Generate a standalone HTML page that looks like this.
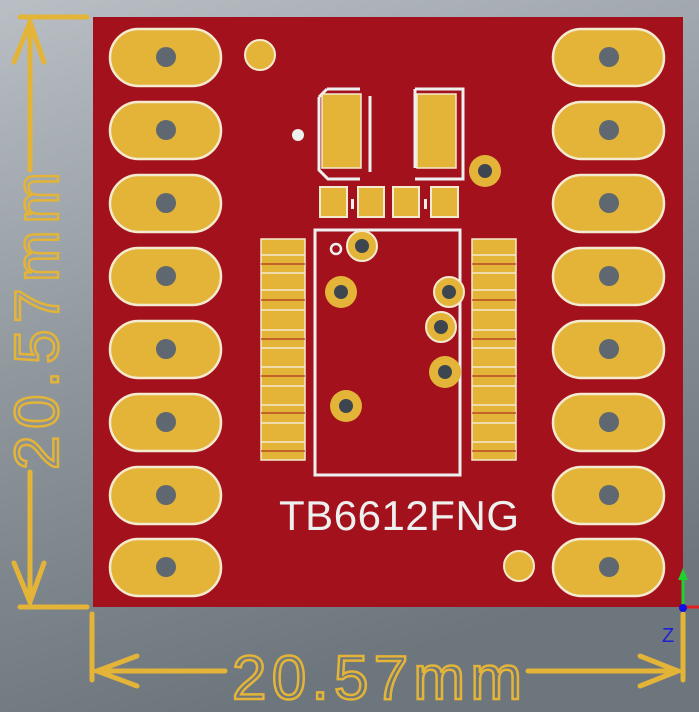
<!DOCTYPE html>
<html><head><style>html,body{margin:0;padding:0;}body{width:699px;height:712px;overflow:hidden;}</style></head>
<body>
<svg width="699" height="712" viewBox="0 0 699 712" xmlns="http://www.w3.org/2000/svg" font-family="Liberation Sans, sans-serif">
<defs>
<linearGradient id="bg" x1="0" y1="0" x2="0.3" y2="1">
<stop offset="0" stop-color="#b9bfc4"/><stop offset="0.5" stop-color="#8f979d"/><stop offset="1" stop-color="#6e767d"/>
</linearGradient>
</defs>
<rect width="699" height="712" fill="url(#bg)"/>
<rect x="93" y="17" width="590" height="590" fill="#a3121c"/>
<g id="lp" fill="#e3b437" stroke="#f4ead0" stroke-width="2.5">
<rect x="110" y="29" width="111" height="57" rx="28.5"/>
<rect x="110" y="102" width="111" height="57" rx="28.5"/>
<rect x="110" y="175" width="111" height="57" rx="28.5"/>
<rect x="110" y="248" width="111" height="57" rx="28.5"/>
<rect x="110" y="321" width="111" height="57" rx="28.5"/>
<rect x="110" y="394" width="111" height="57" rx="28.5"/>
<rect x="110" y="467" width="111" height="57" rx="28.5"/>
<rect x="110" y="539" width="111" height="57" rx="28.5"/>
</g>
<use href="#lp" x="443"/>
<g fill="#5f6870">
<circle cx="166" cy="57" r="10"/><circle cx="166" cy="130" r="10"/><circle cx="166" cy="203" r="10"/><circle cx="166" cy="276" r="10"/><circle cx="166" cy="349" r="10"/><circle cx="166" cy="422" r="10"/><circle cx="166" cy="495" r="10"/><circle cx="166" cy="567" r="10"/>
<circle cx="609" cy="57" r="10"/><circle cx="609" cy="130" r="10"/><circle cx="609" cy="203" r="10"/><circle cx="609" cy="276" r="10"/><circle cx="609" cy="349" r="10"/><circle cx="609" cy="422" r="10"/><circle cx="609" cy="495" r="10"/><circle cx="609" cy="567" r="10"/>
</g>
<g fill="#e3b437" stroke="#f4ead0" stroke-width="2">
<circle cx="260" cy="55" r="15"/><circle cx="519" cy="566" r="15"/>
</g>
<g fill="#e3b437" stroke="#f4ead0" stroke-width="1.5">
<rect x="261" y="239" width="44" height="221"/>
<rect x="472" y="239" width="44" height="221"/>
</g>
<g stroke="#f4ead0" stroke-width="1.5">
<line x1="261" y1="255" x2="305" y2="255"/><line x1="261" y1="273" x2="305" y2="273"/><line x1="261" y1="290" x2="305" y2="290"/><line x1="261" y1="310" x2="305" y2="310"/><line x1="261" y1="330" x2="305" y2="330"/><line x1="261" y1="348" x2="305" y2="348"/><line x1="261" y1="367" x2="305" y2="367"/><line x1="261" y1="386" x2="305" y2="386"/><line x1="261" y1="405" x2="305" y2="405"/><line x1="261" y1="423" x2="305" y2="423"/><line x1="261" y1="442" x2="305" y2="442"/>
<line x1="472" y1="255" x2="516" y2="255"/><line x1="472" y1="273" x2="516" y2="273"/><line x1="472" y1="290" x2="516" y2="290"/><line x1="472" y1="310" x2="516" y2="310"/><line x1="472" y1="330" x2="516" y2="330"/><line x1="472" y1="348" x2="516" y2="348"/><line x1="472" y1="367" x2="516" y2="367"/><line x1="472" y1="386" x2="516" y2="386"/><line x1="472" y1="405" x2="516" y2="405"/><line x1="472" y1="423" x2="516" y2="423"/><line x1="472" y1="442" x2="516" y2="442"/>
</g>
<g stroke="#a3121c" stroke-width="1">
<line x1="261" y1="264" x2="305" y2="264"/><line x1="261" y1="300" x2="305" y2="300"/><line x1="261" y1="339" x2="305" y2="339"/><line x1="261" y1="376" x2="305" y2="376"/><line x1="261" y1="413" x2="305" y2="413"/><line x1="261" y1="451" x2="305" y2="451"/>
<line x1="472" y1="264" x2="516" y2="264"/><line x1="472" y1="300" x2="516" y2="300"/><line x1="472" y1="339" x2="516" y2="339"/><line x1="472" y1="376" x2="516" y2="376"/><line x1="472" y1="413" x2="516" y2="413"/><line x1="472" y1="451" x2="516" y2="451"/>
</g>
<rect x="315" y="230" width="145" height="245" fill="none" stroke="#eef0f0" stroke-width="3"/>
<path d="M327 89 L360 89 M319 97 L327 89 M319 97 L319 170 L328 179 L360 179" fill="none" stroke="#eef0f0" stroke-width="3"/>
<line x1="370" y1="96" x2="370" y2="172" stroke="#eef0f0" stroke-width="3"/>
<rect x="322" y="94" width="39" height="74" fill="#e3b437" stroke="#f4ead0" stroke-width="1.5"/>
<path d="M415 89 L463 89 L463 179 L415 179 M415 89 L415 168" fill="none" stroke="#eef0f0" stroke-width="3"/>
<rect x="417" y="94" width="39" height="74" fill="#e3b437" stroke="#f4ead0" stroke-width="1.5"/>
<g fill="#e3b437" stroke="#f4ead0" stroke-width="2">
<rect x="320" y="187" width="27" height="30"/><rect x="358" y="187" width="26" height="30"/><rect x="393" y="187" width="26" height="30"/><rect x="431" y="187" width="27" height="30"/>
</g>
<rect x="351" y="199" width="3" height="10" fill="#eef0f0"/><rect x="424" y="199" width="3" height="10" fill="#eef0f0"/>
<circle cx="298" cy="135" r="6" fill="#eef0f0"/>
<circle cx="336" cy="249" r="5" fill="none" stroke="#eef0f0" stroke-width="2.5"/>
<g fill="#e3b437">
<circle cx="485" cy="171" r="16"/><circle cx="362" cy="246" r="15" stroke="#f4ead0" stroke-width="2"/><circle cx="341" cy="292" r="16"/><circle cx="449" cy="292" r="15" stroke="#f4ead0" stroke-width="2"/><circle cx="441" cy="327" r="15" stroke="#f4ead0" stroke-width="2"/><circle cx="445" cy="372" r="16"/><circle cx="346" cy="406" r="16"/>
</g>
<g fill="#3d4650">
<circle cx="485" cy="171" r="7"/><circle cx="362" cy="246" r="7"/><circle cx="341" cy="292" r="7"/><circle cx="449" cy="292" r="7"/><circle cx="441" cy="327" r="7"/><circle cx="445" cy="372" r="7"/><circle cx="346" cy="406" r="7"/>
</g>
<text x="279" y="530" font-size="42" fill="#eef0f0" textLength="240" lengthAdjust="spacing">TB6612FNG</text>
<g stroke="#e3b437" stroke-width="5" stroke-linecap="round" fill="none">
<line x1="20" y1="17" x2="87" y2="17"/><line x1="20" y1="607" x2="87" y2="607"/>
<line x1="30" y1="22" x2="30" y2="170"/><line x1="30" y1="472" x2="30" y2="602"/>
<path d="M14 62 L30 22 L44 62"/><path d="M14 563 L30 602 L44 563"/>
<line x1="92" y1="614" x2="92" y2="680"/><line x1="683" y1="614" x2="683" y2="680"/>
<line x1="97" y1="671" x2="225" y2="671"/><line x1="528" y1="671" x2="678" y2="671"/>
<path d="M137 656 L97 671 L137 686"/><path d="M640 656 L678 671 L640 686"/>
</g>
<text x="232" y="699" font-size="62" fill="none" stroke="#e3b437" stroke-width="2.5" textLength="290" lengthAdjust="spacing">20.57mm</text>
<text transform="translate(58,470) rotate(-90)" x="0" y="0" font-size="62" fill="none" stroke="#e3b437" stroke-width="2.5" textLength="298" lengthAdjust="spacing">20.57mm</text>
<line x1="683" y1="607" x2="683" y2="575" stroke="#1fd030" stroke-width="3"/>
<path d="M678 580 L683 568 L688 580 Z" fill="#1fd030"/>
<line x1="683" y1="607" x2="699" y2="607" stroke="#e02020" stroke-width="3"/>
<circle cx="683" cy="608" r="4" fill="#1010e0"/>
<text x="662" y="642" font-size="20" fill="#2020d0">Z</text>
</svg>
</body></html>
